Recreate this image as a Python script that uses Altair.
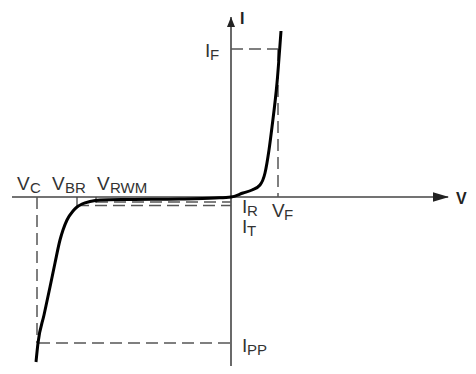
import altair as alt
import pandas as pd

# Characteristic curve (V, I) in diagram units (origin at axis crossing)
curve_v = [-195, -193, -187, -181, -176, -171, -168, -164, -158, -154, -149, -141, -131, -101, -51, -16, 0,
           12, 21, 29, 34, 38, 41, 46, 50]
curve_i = [-165, -146, -118, -90, -66, -43, -33, -23, -14, -10, -7, -4.5, -3, -2.5, -2, -1, 0,
           4, 7, 12, 24, 47, 70, 114, 166]

# Reference levels
V_C, V_BR, V_RWM, V_F = -194, -154, -135, 47
I_F, I_PP, I_R, I_T = 148, -146, -5, -8.5

# Labels: main letter, subscript, anchors (V, I)
lab_main = ["V", "V", "V", "I", "I", "I", "V", "I"]
lab_sub = ["C", "BR", "RWM", "F", "R", "T", "F", "PP"]
lab_v = [-214, -179, -134, -26, 11, 11, 41, 11]
lab_i = [7, 7, 7, 140, -16, -36, -20, -155]
sub_v = [-201, -166, -121, -21, 16, 16, 53, 16]

W, H = 460, 358
xs = alt.Scale(domain=[-223, 237], nice=False, zero=False)
ys = alt.Scale(domain=[-169, 189], nice=False, zero=False)
X = lambda f: alt.X(f, type="quantitative", scale=xs, axis=None)
Y = lambda f: alt.Y(f, type="quantitative", scale=ys, axis=None)

curve_df = pd.DataFrame({"v": curve_v, "i": curve_i, "k": range(len(curve_v))})
curve = alt.Chart(curve_df).mark_line(color="black", strokeWidth=3, interpolate="monotone").encode(
    x=X("v"), y=Y("i"), order="k:Q")

axes_df = pd.DataFrame({"v": [-219, 0], "v2": [217, 0], "i": [0, 180], "i2": [0, -175]})
axes = alt.Chart(axes_df).mark_rule(color="#444", strokeWidth=1.6).encode(
    x=X("v"), x2="v2", y=Y("i"), y2="i2")

arrow_h = alt.Chart(pd.DataFrame({"v": [210], "i": [0]})).mark_point(
    shape="M-1,-0.6L1,0L-1,0.6Z", size=256, filled=True, color="#222", opacity=1).encode(x=X("v"), y=Y("i"))
arrow_v = alt.Chart(pd.DataFrame({"v": [0], "i": [175]})).mark_point(
    shape="M-0.8,1L0,-1L0.8,1Z", size=100, filled=True, color="#222", opacity=1).encode(x=X("v"), y=Y("i"))

dash_df = pd.DataFrame({
    "v": [0, V_F, V_C + 1, V_C, V_RWM, V_BR],
    "v2": [V_F, V_F, 0, V_C, 0, 0],
    "i": [I_F, I_F, I_PP, 0, I_R, I_T],
    "i2": [I_F, 0, I_PP, I_PP, I_R, I_T],
})
dashes = alt.Chart(dash_df).mark_rule(color="#555", strokeWidth=1.5, strokeDash=[12, 6]).encode(
    x=X("v"), x2="v2", y=Y("i"), y2="i2")

tick_df = pd.DataFrame({"v": [V_BR, V_RWM], "i": [0, 0], "i2": [-10, -6]})
ticks = alt.Chart(tick_df).mark_rule(color="#444", strokeWidth=1.3).encode(
    x=X("v"), y=Y("i"), y2="i2")

lab_df = pd.DataFrame({"m": lab_main, "s": lab_sub, "v": lab_v, "i": lab_i, "sv": sub_v})
mains = alt.Chart(lab_df).mark_text(align="left", baseline="alphabetic", fontSize=19,
                                     font="Liberation Sans", color="#333").encode(
    x=X("v"), y=Y("i"), text="m:N")
subs = alt.Chart(lab_df).mark_text(align="left", baseline="alphabetic", fontSize=15, dy=3,
                                    font="Liberation Sans", color="#333").encode(
    x=X("sv"), y=Y("i"), text="s:N")

axis_lab = alt.Chart(pd.DataFrame({"t": ["I", "V"], "v": [9, 225], "i": [173, -7]})).mark_text(
    align="left", baseline="alphabetic", fontSize=16, font="Liberation Sans", fontWeight="bold",
    color="#222").encode(x=X("v"), y=Y("i"), text="t:N")

chart = alt.layer(axes, dashes, ticks, curve, arrow_h, arrow_v, mains, subs, axis_lab).properties(
    width=W, height=H, padding=0, autosize=alt.AutoSizeParams(type="none")
).configure_view(stroke=None)

chart.save("out.html", embed_options={"renderer": "svg", "actions": False})
